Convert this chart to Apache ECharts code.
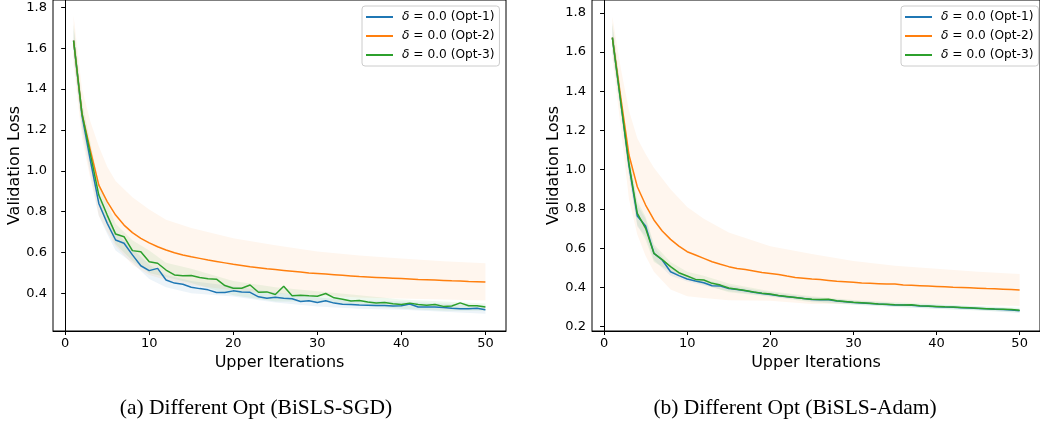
<!DOCTYPE html>
<html>
<head>
<meta charset="utf-8">
<script src="https://cdn.jsdelivr.net/npm/echarts@6/dist/echarts.min.js"></script>
<style>
  html, body { margin: 0; padding: 0; background: #fff; }
  #chart { width: 1040px; height: 423px; }
</style>
</head>
<body>
<div id="chart"></div>
<script>
// x values (upper iterations)
const iters = [1,2,3,4,5,6,7,8,9,10,11,12,13,14,15,16,17,18,19,20,21,22,23,24,25,
  26,27,28,29,30,31,32,33,34,35,36,37,38,39,40,41,42,43,44,45,46,47,48,49,50];
const xTicks = [0, 10, 20, 30, 40, 50];
const sgdYTicks = [0.4, 0.6, 0.8, 1.0, 1.2, 1.4, 1.6, 1.8];
const adamYTicks = [0.2, 0.4, 0.6, 0.8, 1.0, 1.2, 1.4, 1.6, 1.8];
const names = ['δ = 0.0 (Opt-1)', 'δ = 0.0 (Opt-2)', 'δ = 0.0 (Opt-3)'];
const captions = ['(a) Different Opt (BiSLS-SGD)', '(b) Different Opt (BiSLS-Adam)'];

// (a) BiSLS-SGD mean curves
const sgdOpt1 = [1.637,1.27,1.05,0.84,0.743,0.661,0.645,0.588,0.535,0.511,0.522,0.465,0.450,0.444,0.430,
  0.423,0.417,0.404,0.404,0.412,0.407,0.405,0.383,0.376,0.381,0.376,0.373,0.360,0.364,0.355,
  0.364,0.352,0.347,0.345,0.343,0.342,0.340,0.340,0.338,0.339,0.348,0.333,0.333,0.333,0.331,
  0.327,0.324,0.325,0.327,0.320];
const sgdOpt2 = [1.637,1.28,1.10,0.93,0.849,0.783,0.734,0.697,0.669,0.647,0.628,0.612,0.599,0.588,0.579,
  0.571,0.563,0.556,0.549,0.542,0.536,0.530,0.525,0.520,0.516,0.512,0.508,0.504,0.500,0.497,
  0.494,0.491,0.488,0.485,0.482,0.480,0.478,0.476,0.474,0.472,0.470,0.468,0.467,0.465,0.463,
  0.461,0.460,0.458,0.457,0.455];
const sgdOpt3 = [1.637,1.28,1.08,0.881,0.783,0.690,0.677,0.609,0.604,0.555,0.547,0.514,0.490,0.486,0.487,
  0.477,0.471,0.469,0.438,0.425,0.425,0.441,0.405,0.407,0.394,0.435,0.388,0.391,0.388,0.386,
  0.399,0.378,0.371,0.362,0.365,0.358,0.353,0.355,0.349,0.345,0.352,0.345,0.342,0.345,0.336,
  0.338,0.353,0.339,0.339,0.333];

// (b) BiSLS-Adam mean curves
const adamOpt1 = [1.673,1.35,1.02,0.764,0.713,0.574,0.540,0.480,0.460,0.443,0.433,0.424,0.409,0.407,0.395,
  0.389,0.383,0.376,0.369,0.364,0.358,0.353,0.349,0.344,0.339,0.337,0.337,0.331,0.327,0.323,
  0.321,0.318,0.315,0.313,0.311,0.310,0.309,0.306,0.304,0.302,0.300,0.299,0.297,0.295,0.293,
  0.291,0.289,0.287,0.285,0.281];
const adamOpt2 = [1.673,1.37,1.075,0.913,0.820,0.744,0.688,0.645,0.611,0.582,0.565,0.548,0.531,0.518,0.506,
  0.497,0.491,0.484,0.476,0.471,0.466,0.458,0.451,0.447,0.443,0.440,0.436,0.432,0.429,0.426,
  0.423,0.421,0.419,0.417,0.417,0.413,0.411,0.409,0.407,0.405,0.403,0.401,0.400,0.398,0.396,
  0.394,0.393,0.391,0.389,0.387];
const adamOpt3 = [1.673,1.35,1.03,0.778,0.701,0.574,0.542,0.506,0.475,0.458,0.441,0.438,0.421,0.412,0.397,
  0.391,0.384,0.377,0.371,0.366,0.359,0.354,0.349,0.344,0.340,0.339,0.340,0.332,0.328,0.324,
  0.322,0.319,0.316,0.314,0.312,0.311,0.312,0.307,0.305,0.303,0.301,0.300,0.298,0.296,0.294,
  0.292,0.290,0.289,0.287,0.284];

// shaded spread bands, read at these iterations
const bandIters = [1,2,3,4,5,6,8,10,12,15,20,25,30,35,40,45,50];
const sgdUp1 = [1.70,1.32,1.10,0.89,0.79,0.70,0.62,0.54,0.49,0.46,0.435,0.405,0.38,0.365,0.36,0.35,0.34];
const sgdLo1 = [1.57,1.20,0.98,0.78,0.69,0.61,0.55,0.47,0.43,0.40,0.385,0.355,0.335,0.325,0.32,0.31,0.30];
const sgdUp2 = [1.76,1.40,1.24,1.12,1.02,0.95,0.87,0.81,0.76,0.72,0.67,0.635,0.605,0.585,0.57,0.557,0.547];
const sgdLo2 = [1.52,1.16,0.96,0.78,0.70,0.63,0.54,0.49,0.465,0.44,0.415,0.40,0.39,0.38,0.375,0.37,0.365];
const sgdUp3 = [1.72,1.34,1.14,0.94,0.84,0.74,0.66,0.61,0.55,0.52,0.46,0.43,0.41,0.39,0.37,0.36,0.35];
const sgdLo3 = [1.55,1.22,1.02,0.83,0.73,0.64,0.56,0.50,0.48,0.45,0.39,0.36,0.36,0.34,0.325,0.315,0.315];
const adamUp1 = [1.74,1.40,1.07,0.82,0.75,0.61,0.50,0.46,0.44,0.41,0.375,0.35,0.333,0.32,0.312,0.303,0.292];
const adamLo1 = [1.61,1.30,0.97,0.71,0.66,0.54,0.46,0.43,0.41,0.38,0.355,0.33,0.313,0.302,0.292,0.284,0.27];
const adamUp2 = [1.78,1.52,1.30,1.16,1.08,1.01,0.90,0.81,0.75,0.68,0.61,0.57,0.535,0.51,0.495,0.48,0.469];
const adamLo2 = [1.57,1.22,0.85,0.67,0.56,0.48,0.39,0.355,0.346,0.335,0.332,0.316,0.317,0.32,0.315,0.31,0.305];
const adamUp3 = [1.75,1.41,1.09,0.84,0.76,0.62,0.53,0.48,0.46,0.42,0.38,0.355,0.336,0.324,0.315,0.305,0.296];
const adamLo3 = [1.60,1.29,0.97,0.72,0.64,0.53,0.48,0.44,0.415,0.375,0.352,0.325,0.312,0.300,0.291,0.283,0.272];

const colors = ['#1f77b4', '#ff7f0e', '#2ca02c'];
const bandFills = ['rgba(31,119,180,0.08)', 'rgba(255,127,14,0.07)', 'rgba(44,160,44,0.08)'];
const FONT = 'DejaVu Sans';

const chart = echarts.init(document.getElementById('chart'), null, { renderer: 'canvas' });

function pairs(xs, ys) {
  return xs.map((x, k) => [x, ys[k]]);
}

// spread band drawn as one polygon through the axis scales
function band(gi, up, lo, ci) {
  return {
    type: 'custom',
    xAxisIndex: gi,
    yAxisIndex: gi,
    silent: true,
    z: 1,
    data: [[1, up[0]]],
    renderItem: (params, api) => {
      const pts = [];
      bandIters.forEach((x, k) => pts.push(api.coord([x, up[k]])));
      for (let k = bandIters.length - 1; k >= 0; k--) pts.push(api.coord([bandIters[k], lo[k]]));
      return { type: 'polygon', shape: { points: pts }, style: { fill: bandFills[ci] } };
    }
  };
}

function line(gi, ys, ci) {
  return {
    type: 'line',
    name: names[ci],
    xAxisIndex: gi,
    yAxisIndex: gi,
    data: pairs(iters, ys),
    showSymbol: false,
    z: 3,
    lineStyle: { color: colors[ci], width: 1.5 },
    itemStyle: { color: colors[ci] }
  };
}

function xAxis(gi) {
  return {
    type: 'value', gridIndex: gi, min: -1.45, max: 52.45,
    name: 'Upper Iterations', nameLocation: 'middle', nameGap: 19,
    nameTextStyle: { fontFamily: FONT, fontSize: 16, color: '#000' },
    axisLine: { lineStyle: { color: '#000', width: 1 } },
    axisTick: { show: true, length: 4, customValues: xTicks, lineStyle: { color: '#000' } },
    axisLabel: { customValues: xTicks, fontFamily: FONT, fontSize: 13, color: '#000', margin: 6 },
    splitLine: { show: false }
  };
}

function yAxis(gi, min, max, ticks) {
  return {
    type: 'value', gridIndex: gi, min: min, max: max,
    name: 'Validation Loss', nameLocation: 'middle', nameGap: 29, nameRotate: 90,
    nameTextStyle: { fontFamily: FONT, fontSize: 16, color: '#000' },
    axisLine: { show: true, lineStyle: { color: '#000', width: 1 } },
    axisTick: { show: true, length: 4, customValues: ticks, lineStyle: { color: '#000' } },
    axisLabel: {
      customValues: ticks, fontFamily: FONT, fontSize: 13, color: '#000', margin: 6,
      formatter: v => v.toFixed(1)
    },
    splitLine: { show: false }
  };
}

function legend(left) {
  return {
    orient: 'vertical', left: left, top: 6,
    data: names,
    icon: 'rect', itemWidth: 27, itemHeight: 2, itemGap: 5,
    padding: [4, 5, 4, 4],
    backgroundColor: 'rgba(255,255,255,0.85)',
    borderColor: '#ccc', borderWidth: 1, borderRadius: 3,
    selectedMode: false,
    formatter: n => n.replace('δ', '{i|δ}'),
    textStyle: {
      fontFamily: FONT, fontSize: 12.2, color: '#000', lineHeight: 14, padding: [0, 0, 0, 4],
      rich: { i: { fontFamily: FONT, fontSize: 12.2, fontStyle: 'italic', color: '#000' } }
    }
  };
}

chart.setOption({
  animation: false,
  backgroundColor: '#fff',
  grid: [
    { left: 53, top: 0, width: 453, height: 331, show: true, borderColor: '#000', borderWidth: 1 },
    { left: 592, top: 0, width: 453, height: 331, show: true, borderColor: '#000', borderWidth: 1 }
  ],
  xAxis: [xAxis(0), xAxis(1)],
  yAxis: [yAxis(0, 0.2155, 1.836, sgdYTicks), yAxis(1, 0.178, 1.865, adamYTicks)],
  legend: [legend(362), legend(901)],
  graphic: [
    { type: 'text', x: 256, y: 408, style: { text: captions[0], font: '21.5px "Liberation Serif"', fill: '#000', align: 'center', verticalAlign: 'middle' } },
    { type: 'text', x: 795, y: 408, style: { text: captions[1], font: '21.5px "Liberation Serif"', fill: '#000', align: 'center', verticalAlign: 'middle' } }
  ],
  series: [
    band(0, sgdUp1, sgdLo1, 0), band(0, sgdUp2, sgdLo2, 1), band(0, sgdUp3, sgdLo3, 2),
    band(1, adamUp1, adamLo1, 0), band(1, adamUp2, adamLo2, 1), band(1, adamUp3, adamLo3, 2),
    line(0, sgdOpt1, 0), line(0, sgdOpt2, 1), line(0, sgdOpt3, 2),
    line(1, adamOpt1, 0), line(1, adamOpt2, 1), line(1, adamOpt3, 2)
  ]
});
</script>
</body>
</html>
